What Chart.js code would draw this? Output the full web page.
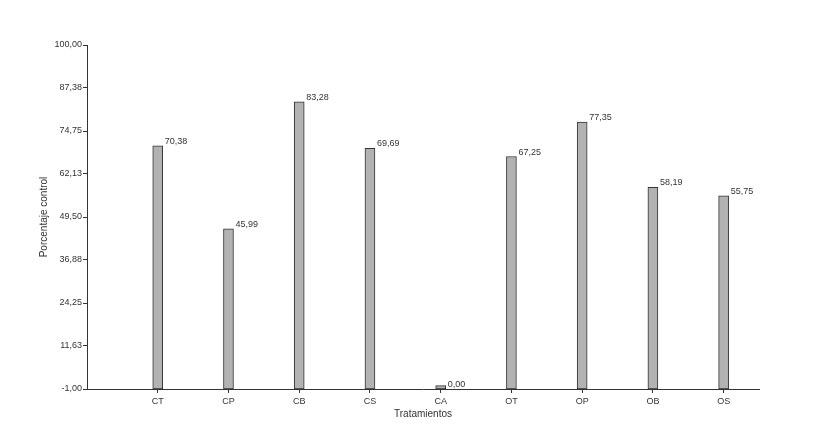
<!DOCTYPE html>
<html>
<head>
<meta charset="utf-8">
<script src="https://cdn.jsdelivr.net/npm/chart.js@4"></script>
<style>
  html, body { margin: 0; padding: 0; background: #fff; }
  #wrap { width: 817px; height: 428px; }
</style>
</head>
<body>
<div id="wrap"><canvas id="chart"></canvas></div>
<script>
const categories = ["CT", "CP", "CB", "CS", "CA", "OT", "OP", "OB", "OS"]
const values = [70.38, 45.99, 83.28, 69.69, 0.00, 67.25, 77.35, 58.19, 55.75]
const yTicks = [-1.00, 11.63, 24.25, 36.88, 49.50, 62.13, 74.75, 87.38, 100.00]
const yBase = -1

const fmt = v => v.toFixed(2).replace(".", ",")

// value written just right of each bar top
const valueLabels = {
  id: "valueLabels",
  afterDatasetsDraw(chart) {
    const ctx = chart.ctx
    const meta = chart.getDatasetMeta(0)
    ctx.save()
    ctx.font = "9px 'Liberation Sans', Arial, sans-serif"
    ctx.fillStyle = "#333"
    ctx.textAlign = "left"
    ctx.textBaseline = "alphabetic"
    meta.data.forEach((bar, i) => {
      ctx.fillText(fmt(values[i]), bar.x + bar.width / 2 + 2, bar.y - 2)
    })
    ctx.restore()
  }
}

new Chart(document.getElementById("chart"), {
  type: "bar",
  data: {
    datasets: [{
      data: values.map((v, i) => ({ x: i + 1, y: [yBase, v] })),
      backgroundColor: "#b2b2b2",
      borderColor: "#333",
      borderWidth: 1,
      borderSkipped: false,
      barThickness: 10
    }]
  },
  options: {
    responsive: true,
    maintainAspectRatio: false,
    animation: false,
    layout: { padding: { top: 45, right: 58, left: 0, bottom: 0 } },
    plugins: { legend: { display: false }, tooltip: { enabled: false } },
    scales: {
      x: {
        type: "linear",
        min: 0,
        max: 9.5,
        offset: false,
        afterBuildTicks: s => { s.ticks = categories.map((c, i) => ({ value: i + 1 })) },
        afterFit: s => { s.height = 39 },
        ticks: {
          callback: v => categories[v - 1],
          color: "#333",
          font: { family: "'Liberation Sans', Arial, sans-serif", size: 9 },
          padding: 3,
          maxRotation: 0
        },
        grid: { offset: false, drawOnChartArea: false, color: "#333", tickLength: 4 },
        border: { color: "#333", width: 1 },
        title: {
          display: true,
          text: "Tratamientos",
          color: "#333",
          font: { family: "'Liberation Sans', Arial, sans-serif", size: 10 },
          padding: { top: 0, bottom: 8 }
        }
      },
      y: {
        min: yBase,
        max: 100,
        afterBuildTicks: s => { s.ticks = yTicks.map(v => ({ value: v })) },
        afterFit: s => { s.width = 87 },
        ticks: {
          callback: v => fmt(v),
          color: "#333",
          font: { family: "'Liberation Sans', Arial, sans-serif", size: 9 },
          padding: 1
        },
        grid: { drawOnChartArea: false, color: "#333", tickLength: 4 },
        border: { color: "#333", width: 1 },
        title: {
          display: true,
          text: "Porcentaje control",
          color: "#333",
          font: { family: "'Liberation Sans', Arial, sans-serif", size: 10 },
          padding: { top: 38, bottom: 0 }
        }
      }
    }
  },
  plugins: [valueLabels]
})
</script>
</body>
</html>
